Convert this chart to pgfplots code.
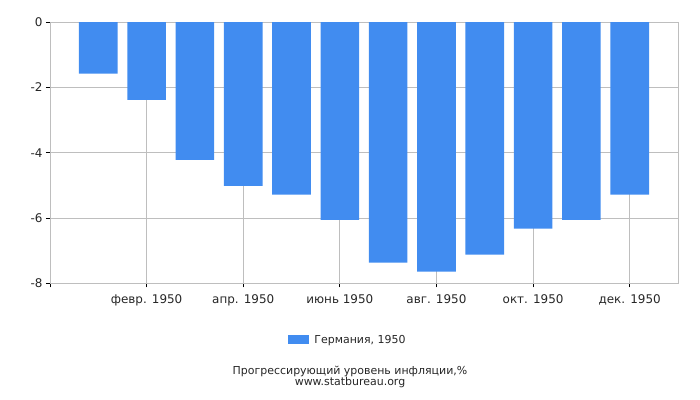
\documentclass[border=0pt]{standalone}
\usepackage{pgfplots}
\pgfplotsset{compat=1.18}
\usepackage{fontspec}
\setmainfont{DejaVu Sans}
\definecolor{barblue}{RGB}{65,140,240}
\definecolor{gridgray}{RGB}{190,190,190}
\begin{document}
\begin{tikzpicture}
\path[use as bounding box] (0bp,0bp) rectangle (700bp,400bp);
\begin{axis}[
  at={(50bp,116.5bp)}, anchor=south west,
  scale only axis, width=628bp, height=261.5bp,
  xmin=-1, xmax=12, ymin=-8, ymax=0,
  xtick={-1,1,3,5,7,9,11},
  xticklabels={,февр. 1950,апр. 1950,июнь 1950,авг. 1950,окт. 1950,дек. 1950},
  ytick={-8,-6,-4,-2,0},
  /pgf/number format/assume math mode=true,
  ticklabel style={font=\fontsize{12}{14}\selectfont, text=black!85},
  xticklabel style={yshift=-4bp},
  grid=major, grid style={gridgray, line width=0.8bp},
  axis line style={gridgray, line width=0.8bp},
  tick align=outside, major tick length=4bp,
  tick style={black, line width=0.8bp},
  xtick pos=bottom, ytick pos=left,
  legend style={at={(0.4745,-0.216)}, anchor=center, draw=none,
    font=\fontsize{11}{13}\selectfont, text=black!85},
  legend image code/.code={\fill[barblue] (0bp,-4.5bp) rectangle (21bp,4.5bp);},
]
\addplot[ybar, bar width=0.8, bar shift=0, fill=barblue, draw=none] coordinates {
  (0,-1.58) (1,-2.38) (2,-4.22) (3,-5.01) (4,-5.28) (5,-6.05)
  (6,-7.36) (7,-7.64) (8,-7.12) (9,-6.32) (10,-6.05) (11,-5.28)
};
\addlegendentry{\hspace{3bp}Германия, 1950}
\end{axis}
\node[font=\fontsize{11}{13}\selectfont, text=black!85] at (350bp,29bp) {Прогрессирующий уровень инфляции,\%};
\node[font=\fontsize{11}{13}\selectfont, text=black!85] at (350bp,18bp) {www.statbureau.org};
\end{tikzpicture}
\end{document}
